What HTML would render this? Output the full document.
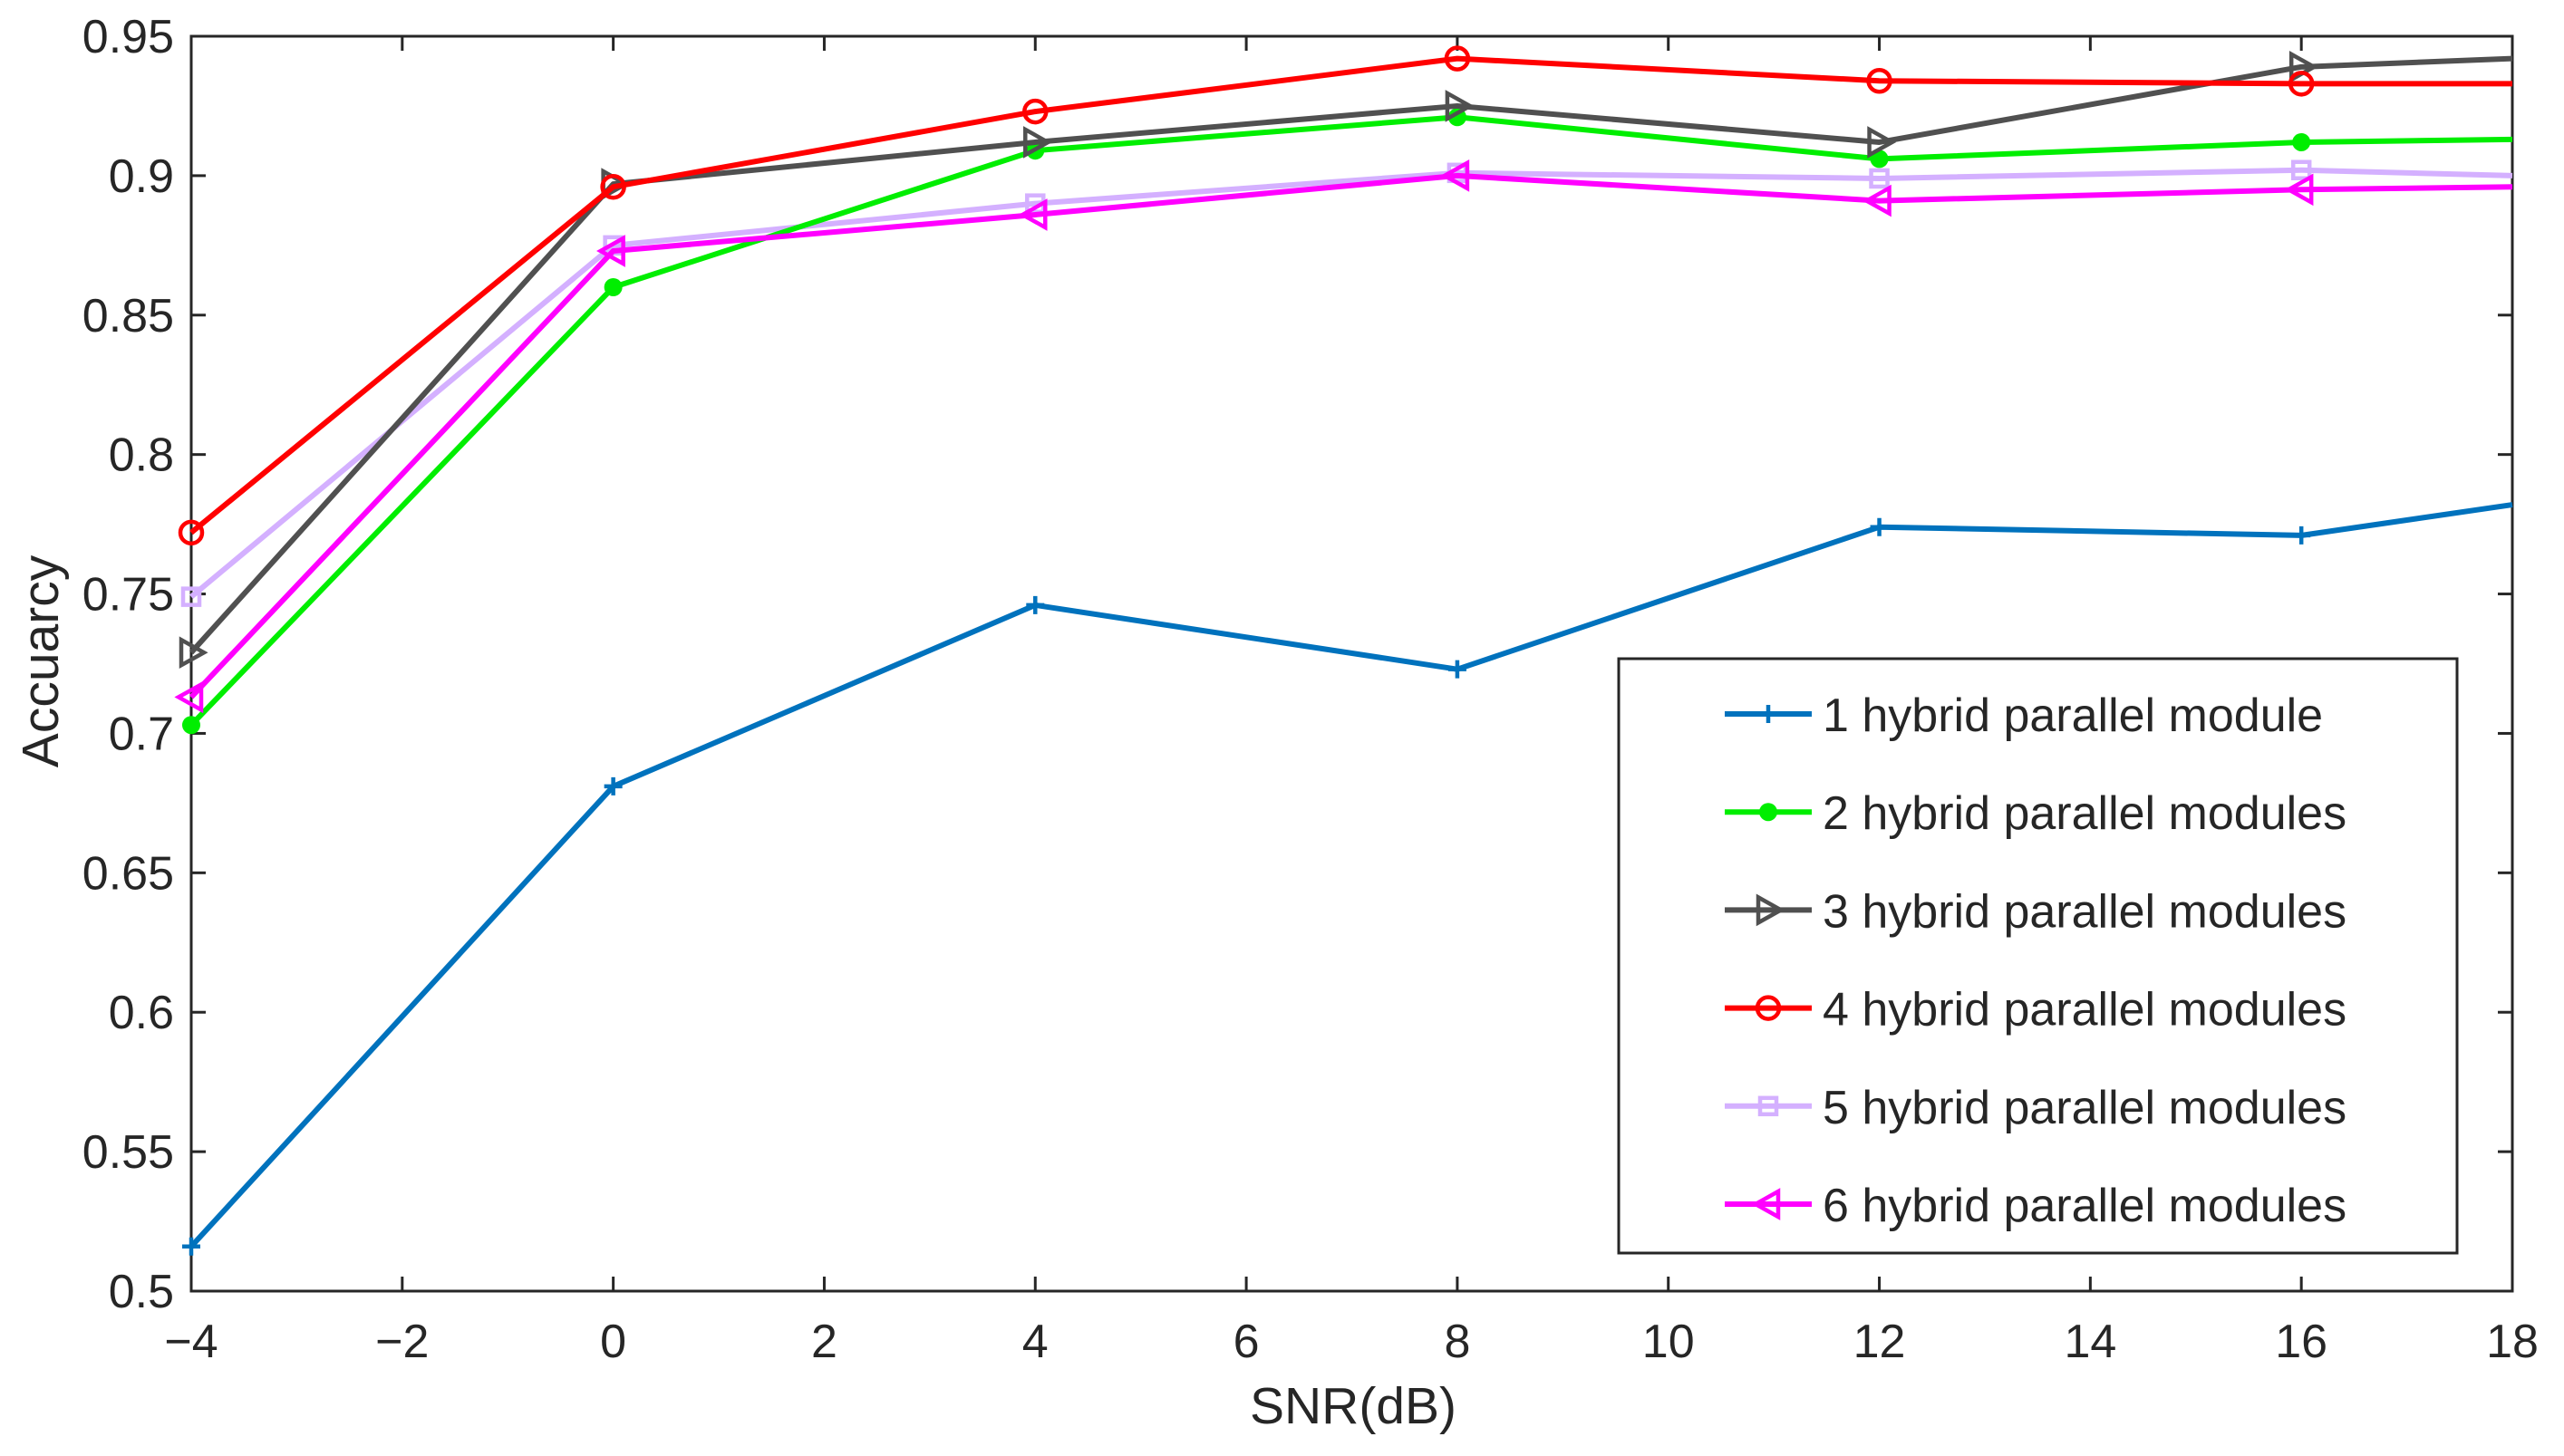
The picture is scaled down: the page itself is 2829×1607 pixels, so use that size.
<!DOCTYPE html>
<html><head><meta charset="utf-8"><style>
html,body{margin:0;padding:0;background:#fff;}
svg text{font-family:"Liberation Sans",Arial,sans-serif;fill:#262626;}
</style></head><body>
<svg id="chart" width="2829" height="1602" viewBox="0 0 2829 1602" xmlns="http://www.w3.org/2000/svg">
<g id="axes"></g><g id="series"></g><g id="legend"></g>
</svg>
<script>
const xValues=[-4,0,4,8,12,16,18];
const s1=[0.516,0.681,0.746,0.723,0.774,0.771,0.782];
const s2=[0.703,0.860,0.909,0.921,0.906,0.912,0.913];
const s3=[0.729,0.897,0.912,0.925,0.912,0.939,0.942];
const s4=[0.772,0.896,0.923,0.942,0.934,0.933,0.933];
const s5=[0.749,0.875,0.890,0.901,0.899,0.902,0.900];
const s6=[0.713,0.873,0.886,0.900,0.891,0.895,0.896];
const seriesNames=["1 hybrid parallel module","2 hybrid parallel modules","3 hybrid parallel modules","4 hybrid parallel modules","5 hybrid parallel modules","6 hybrid parallel modules"];
const xTicks=[-4,-2,0,2,4,6,8,10,12,14,16,18];
const yTicks=[0.5,0.55,0.6,0.65,0.7,0.75,0.8,0.85,0.9,0.95];
const yTickLabels=["0.5","0.55","0.6","0.65","0.7","0.75","0.8","0.85","0.9","0.95"];

const L=211,R=2772,T=40,B=1425,xmin=-4,xmax=18,ymin=0.5,ymax=0.95;
const X=v=>L+(v-xmin)/(xmax-xmin)*(R-L);
const Y=v=>B-(v-ymin)/(ymax-ymin)*(B-T);
const NS="http://www.w3.org/2000/svg";
function mk(tag,attrs,parent){const e=document.createElementNS(NS,tag);for(const k in attrs)e.setAttribute(k,attrs[k]);parent.appendChild(e);return e;}
const axes=document.getElementById('axes'),ser=document.getElementById('series'),leg=document.getElementById('legend');

const frame=mk('rect',{x:L,y:T,width:R-L,height:B-T,fill:'none',stroke:'#262626','stroke-width':3},axes);


xTicks.forEach(t=>{
  const x=X(t);
  mk('line',{x1:x,y1:B,x2:x,y2:B-16,stroke:'#262626','stroke-width':3},axes);
  mk('line',{x1:x,y1:T,x2:x,y2:T+16,stroke:'#262626','stroke-width':3},axes);
  const tx=mk('text',{x:x,y:1498,'font-size':52,'text-anchor':'middle'},axes);
  tx.textContent=(t<0?'\u2212'+(-t):String(t));
  
  
});
yTicks.forEach((t,i)=>{
  const y=Y(t);
  mk('line',{x1:L,y1:y,x2:L+16,y2:y,stroke:'#262626','stroke-width':3},axes);
  mk('line',{x1:R,y1:y,x2:R-16,y2:y,stroke:'#262626','stroke-width':3},axes);
  const tx=mk('text',{x:192,y:y+18,'font-size':52,'text-anchor':'end'},axes);
  tx.textContent=yTickLabels[i];
  
  
});
const xl=mk('text',{x:1493,y:1571,'font-size':57,'text-anchor':'middle'},axes);
xl.textContent='SNR(dB)';


const yl=mk('text',{x:0,y:0,'font-size':57,'text-anchor':'middle',transform:'translate(64,730) rotate(-90)'},axes);
yl.textContent='Accuarcy';



const colors=['#0072BD','#00EE00','#505050','#FF0000','#D4B0FF','#FF00FF'];
const markers=['plus','dot','tri-right','circle','square','tri-left'];
const allSeries=[s1,s2,s3,s4,s5,s6];
function marker(kind,x,y,c,g){
  const sw=4.5;
  if(kind==='plus'){mk('path',{d:`M${x-10},${y}H${x+10}M${x},${y-10}V${y+10}`,stroke:c,'stroke-width':sw},g);}
  else if(kind==='dot'){mk('circle',{cx:x,cy:y,r:10,fill:c},g);}
  else if(kind==='circle'){mk('circle',{cx:x,cy:y,r:12,fill:'none',stroke:c,'stroke-width':sw},g);}
  else if(kind==='square'){mk('rect',{x:x-9,y:y-9,width:18,height:18,fill:'none',stroke:c,'stroke-width':sw},g);}
  else if(kind==='tri-right'){mk('path',{d:`M${x-11},${y-14}L${x+14},${y}L${x-11},${y+14}Z`,fill:'none',stroke:c,'stroke-width':sw},g);}
  else if(kind==='tri-left'){mk('path',{d:`M${x+11},${y-14}L${x-14},${y}L${x+11},${y+14}Z`,fill:'none',stroke:c,'stroke-width':sw},g);}
}
const drawOrder=[4,0,1,2,3,5];
drawOrder.forEach(i=>{
  const data=allSeries[i];
  const g=mk('g',{},ser);
  
  
  const pts=data.map((v,j)=>X(xValues[j])+','+Y(v)).join(' ');
  mk('polyline',{points:pts,fill:'none',stroke:colors[i],'stroke-width':6,'stroke-linejoin':'round'},g);
  data.forEach((v,j)=>{ if(xValues[j]<xmax) marker(markers[i],X(xValues[j]),Y(v),colors[i],g); });
});

const lb=mk('rect',{x:1786,y:727,width:925,height:656,fill:'#fff',stroke:'#262626','stroke-width':3},leg);


seriesNames.forEach((n,i)=>{
  const y=788+i*108.2;
  const g=mk('g',{},leg);
  
  
  mk('line',{x1:1903,y1:y,x2:1999,y2:y,stroke:colors[i],'stroke-width':6},g);
  marker(markers[i],1951,y,colors[i],g);
  const t=mk('text',{x:2011,y:y+19,'font-size':52},g);
  t.textContent=n;
});
</script>
</body></html>
